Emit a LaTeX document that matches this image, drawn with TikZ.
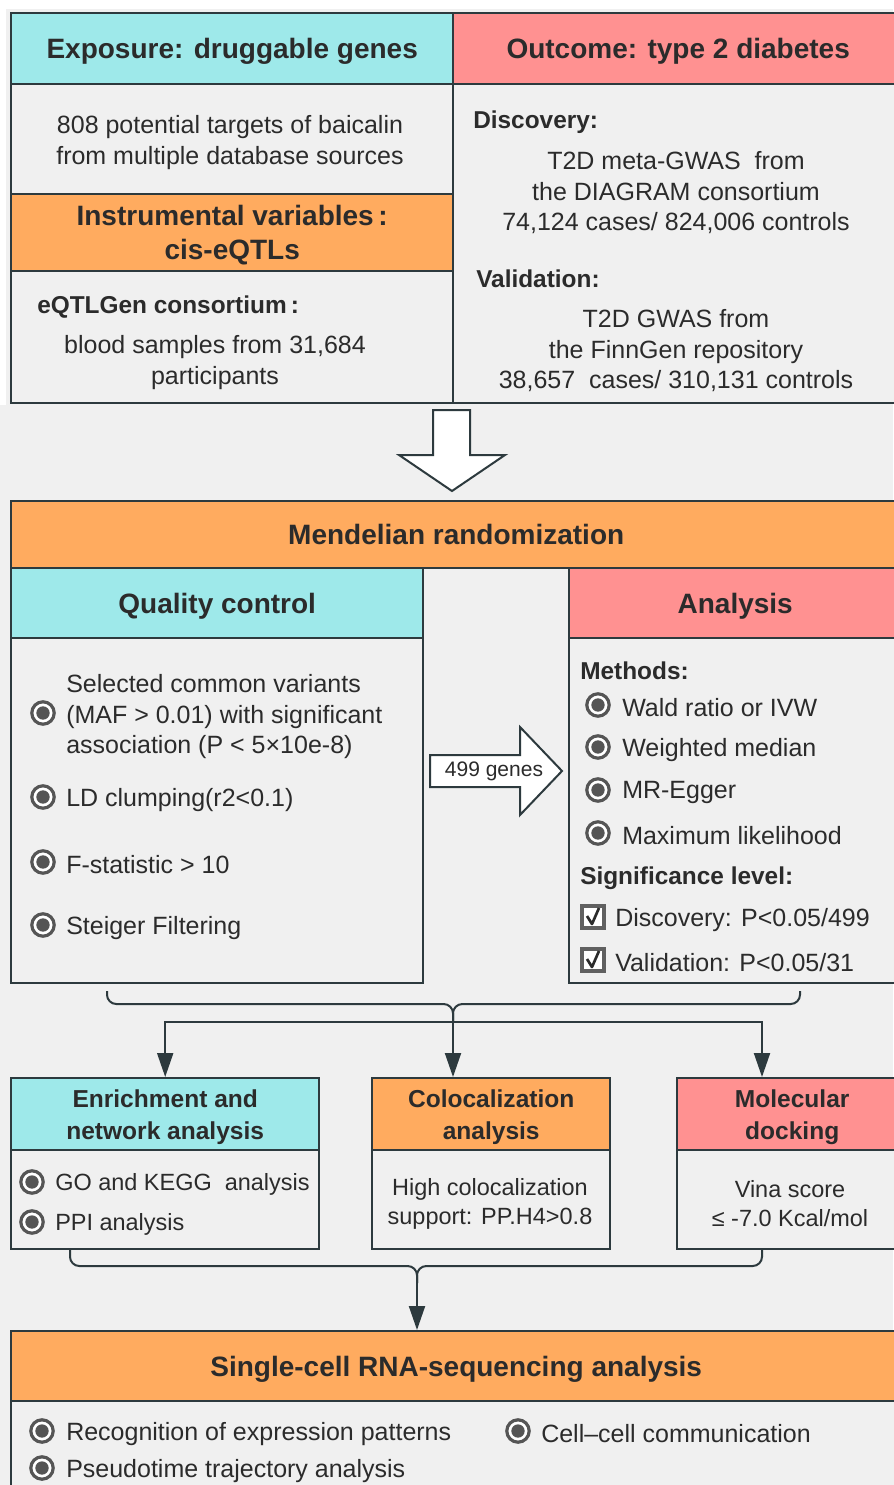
\documentclass[tikz,border=0pt]{standalone}
\usepackage{fontspec}
\setmainfont{Liberation Sans}
\usetikzlibrary{arrows.meta}

\definecolor{expcyan}{HTML}{9EE9EA}
\definecolor{outpink}{HTML}{FF9191}
\definecolor{ivorange}{HTML}{FFAB5F}
\definecolor{panelgray}{HTML}{F0F0F0}
\definecolor{linecol}{HTML}{2D3A3E}
\definecolor{ink}{HTML}{2B2B2B}
\definecolor{bulletcol}{HTML}{555555}
\definecolor{checkcol}{HTML}{606060}

\newcommand{\hdfont}{\fontsize{21}{25.5}\selectfont\bfseries}
\newcommand{\subhfont}{\fontsize{18.3}{22}\selectfont\bfseries}
\newcommand{\txtfont}{\fontsize{18.75}{22.9}\selectfont}
\newcommand{\smfont}{\fontsize{15.75}{18}\selectfont}
\newcommand{\lohdfont}{\fontsize{18.4}{24}\selectfont\bfseries}
\newcommand{\lotxtfont}{\fontsize{17.6}{21.75}\selectfont}

\tikzset{
  box/.style={draw=linecol, line width=1.8pt, anchor=north west, inner sep=0pt, text=ink},
  boxsize/.style 2 args={minimum width=#1*0.75pt, minimum height=#2*0.75pt},
  hdr/.style={box, font=\hdfont, align=center, text depth=0pt},
  lohdr/.style={box, font=\lohdfont, align=center, text depth=0pt},
  body/.style={box, fill=panelgray},
  txt/.style={font=\txtfont, text=ink, inner sep=0pt, align=center, yshift=-2pt},
  lotxt/.style={font=\lotxtfont, text=ink, inner sep=0pt, align=center, yshift=-2pt},
  sub/.style={font=\subhfont, text=ink, inner sep=0pt, yshift=-1.5pt},
  arr/.style={draw=linecol, line width=1.5pt, -{Triangle[length=18pt,width=12pt]}},
  brace/.style={draw=linecol, line width=1.5pt, rounded corners=7pt},
  bullet/.pic={
    \draw[bulletcol, line width=2.4pt, fill=white] (0,0) circle (8.4pt);
    \fill[bulletcol] (0,0) circle (5pt);
  },
  checkmark/.pic={
    \draw[checkcol, line width=2.4pt, fill=white] (-11,-11) rectangle (11,11);
    \draw[ink, line width=2pt, line join=round] (-6,-1) -- (-1,7) -- (6,-9);
  },
}

\begin{document}
\begin{tikzpicture}[x=0.75pt, y=-0.75pt]
  \useasboundingbox (0,0) rectangle (893,1485);
  \fill[panelgray] (0,0) rectangle (893,1485);
  \fill[white] (0,0) rectangle (893,9);
  \fill[white] (0,0) rectangle (6,405);

  % exposure and outcome
  \node[hdr, fill=expcyan, boxsize={442}{71}] (expo) at (10,12) {Exposure: druggable genes};
  \node[body, boxsize={442}{110}] (targets) at (10,83) {};
  \node[hdr, fill=ivorange, boxsize={442}{77}] (iv) at (10,193) {Instrumental variables\,:\\cis-eQTLs};
  \node[body, boxsize={442}{132}] (eqtl) at (10,270) {};
  \node[hdr, fill=outpink, boxsize={450}{71}] (outc) at (452,12) {Outcome: type 2 diabetes};
  \node[body, boxsize={450}{319}] (gwas) at (452,83) {};

  \node[txt] (targtxt) at (230,140) {808 potential targets of baicalin\\from multiple database sources};
  \node[sub, anchor=west] (eqlab) at (37,305) {eQTLGen consortium\,:};
  \node[txt] (eqtxt) at (215,360) {blood samples from 31,684\\participants};
  \node[sub, anchor=west] (disc) at (473,120) {Discovery:};
  \node[txt] (disctxt) at (676,190) {T2D meta-GWAS\ \ from\\the DIAGRAM consortium\\74,124 cases/ 824,006 controls};
  \node[sub, anchor=west] (valid) at (476,277) {Validation:};
  \node[txt] (validtxt) at (676,348) {T2D GWAS from\\the FinnGen repository\\38,657\ \ cases/ 310,131 controls};

  \draw[linecol, line width=1.5pt, fill=white] (433,410) -- (470,410) -- (470,455) -- (505,455)
    -- (452,491) -- (399,455) -- (433,455) -- cycle;

  % mendelian randomization
  \node[hdr, fill=ivorange, boxsize={890}{67}] (mr) at (10,500) {Mendelian randomization};
  \node[hdr, fill=expcyan, boxsize={412}{70}] (qc) at (10,567) {Quality control};
  \node[body, boxsize={412}{345}] (qcbody) at (10,637) {};
  \node[hdr, fill=outpink, boxsize={332}{70}] (ana) at (568,567) {Analysis};
  \node[body, boxsize={332}{345}] (anabody) at (568,637) {};

  \foreach \y in {713,797,862,925}
    \pic at (43,\y) {bullet};
  \node[txt, anchor=west, align=left] (qc1) at (66,714) {Selected common variants\\(MAF > 0.01) with significant\\association (P < 5×10e-8)};
  \node[txt, anchor=west] (qc2) at (66,797) {LD clumping(r2<0.1)};
  \node[txt, anchor=west] (qc3) at (66,862) {F-statistic > 10};
  \node[txt, anchor=west] (qc4) at (66,925) {Steiger Filtering};

  \draw[linecol, line width=1.5pt, fill=white] (430,755) -- (520,755) -- (520,727) -- (562,771)
    -- (520,815) -- (520,787) -- (430,787) -- cycle;
  \node[font=\smfont, text=ink, inner sep=0pt] (genes) at (494,771) {499 genes};

  \node[sub, anchor=west] (meth) at (580,669) {Methods:};
  \foreach \y/\m in {705/Wald ratio or IVW, 747/Weighted median, 790/MR-Egger, 833/Maximum likelihood} {
    \pic at (598,\y) {bullet};
    \node[txt, anchor=west] (m\y) at (622,\y) {\m};
  }
  \node[sub, anchor=west] (sig) at (580,876) {Significance level:};
  \pic at (593,917) {checkmark};
  \node[txt, anchor=west] (sigd) at (615,917) {Discovery: P<0.05/499};
  \pic at (593,960) {checkmark};
  \node[txt, anchor=west] (sigv) at (615,960) {Validation: P<0.05/31};

  % follow-up analyses
  \node[lohdr, fill=expcyan, boxsize={308}{72}] (enrich) at (10,1077) {Enrichment and\\network analysis};
  \node[body, boxsize={308}{99}] (enrbody) at (10,1149) {};
  \node[lohdr, fill=ivorange, boxsize={238}{72}] (coloc) at (371,1077) {Colocalization\\analysis};
  \node[body, boxsize={238}{99}] (colbody) at (371,1149) {};
  \node[lohdr, fill=outpink, boxsize={230}{72}] (dock) at (676,1077) {Molecular\\docking};
  \node[body, boxsize={230}{99}] (dockbody) at (676,1149) {};

  \coordinate (fork) at (453,1022);
  \coordinate (dockdrop) at (762,1022);
  \draw[brace] (107,991) |- (453,1004) -- (fork);
  \draw[brace] (800,991) |- (453,1004) -- (fork);
  \draw[arr] (fork) -| (enrich.north);
  \draw[arr] (fork) -- (fork |- coloc.north);
  \draw[arr] (fork) -| (dockdrop |- dock.north);

  \pic at (32,1182) {bullet};
  \node[lotxt, anchor=west] (go) at (55,1182) {GO and KEGG\ \ analysis};
  \pic at (32,1222) {bullet};
  \node[lotxt, anchor=west] (ppi) at (55,1222) {PPI analysis};
  \node[lotxt] (pph4) at (490,1201) {High colocalization\\support: PP.H4>0.8};
  \node[lotxt] (vina) at (790,1201) {Vina score\\≤ -7.0 Kcal/mol};

  % single-cell
  \node[hdr, fill=ivorange, boxsize={890}{70}] (sc) at (10,1330) {Single-cell RNA-sequencing analysis};
  \node[body, boxsize={890}{110}] (scbody) at (10,1400) {};

  \coordinate (join) at (417,1283);
  \draw[brace] (70,1250) |- (417,1266) -- (join);
  \draw[brace] (762,1250) |- (417,1266) -- (join);
  \draw[arr] (join) -- (join |- sc.north);

  \pic at (42,1431) {bullet};
  \node[txt, anchor=west] (sc1) at (66,1431) {Recognition of expression patterns};
  \pic at (518,1431) {bullet};
  \node[txt, anchor=west] (sc2) at (541,1431) {Cell–cell communication};
  \pic at (42,1468) {bullet};
  \node[txt, anchor=west] (sc3) at (66,1468) {Pseudotime trajectory analysis};
\end{tikzpicture}
\end{document}
